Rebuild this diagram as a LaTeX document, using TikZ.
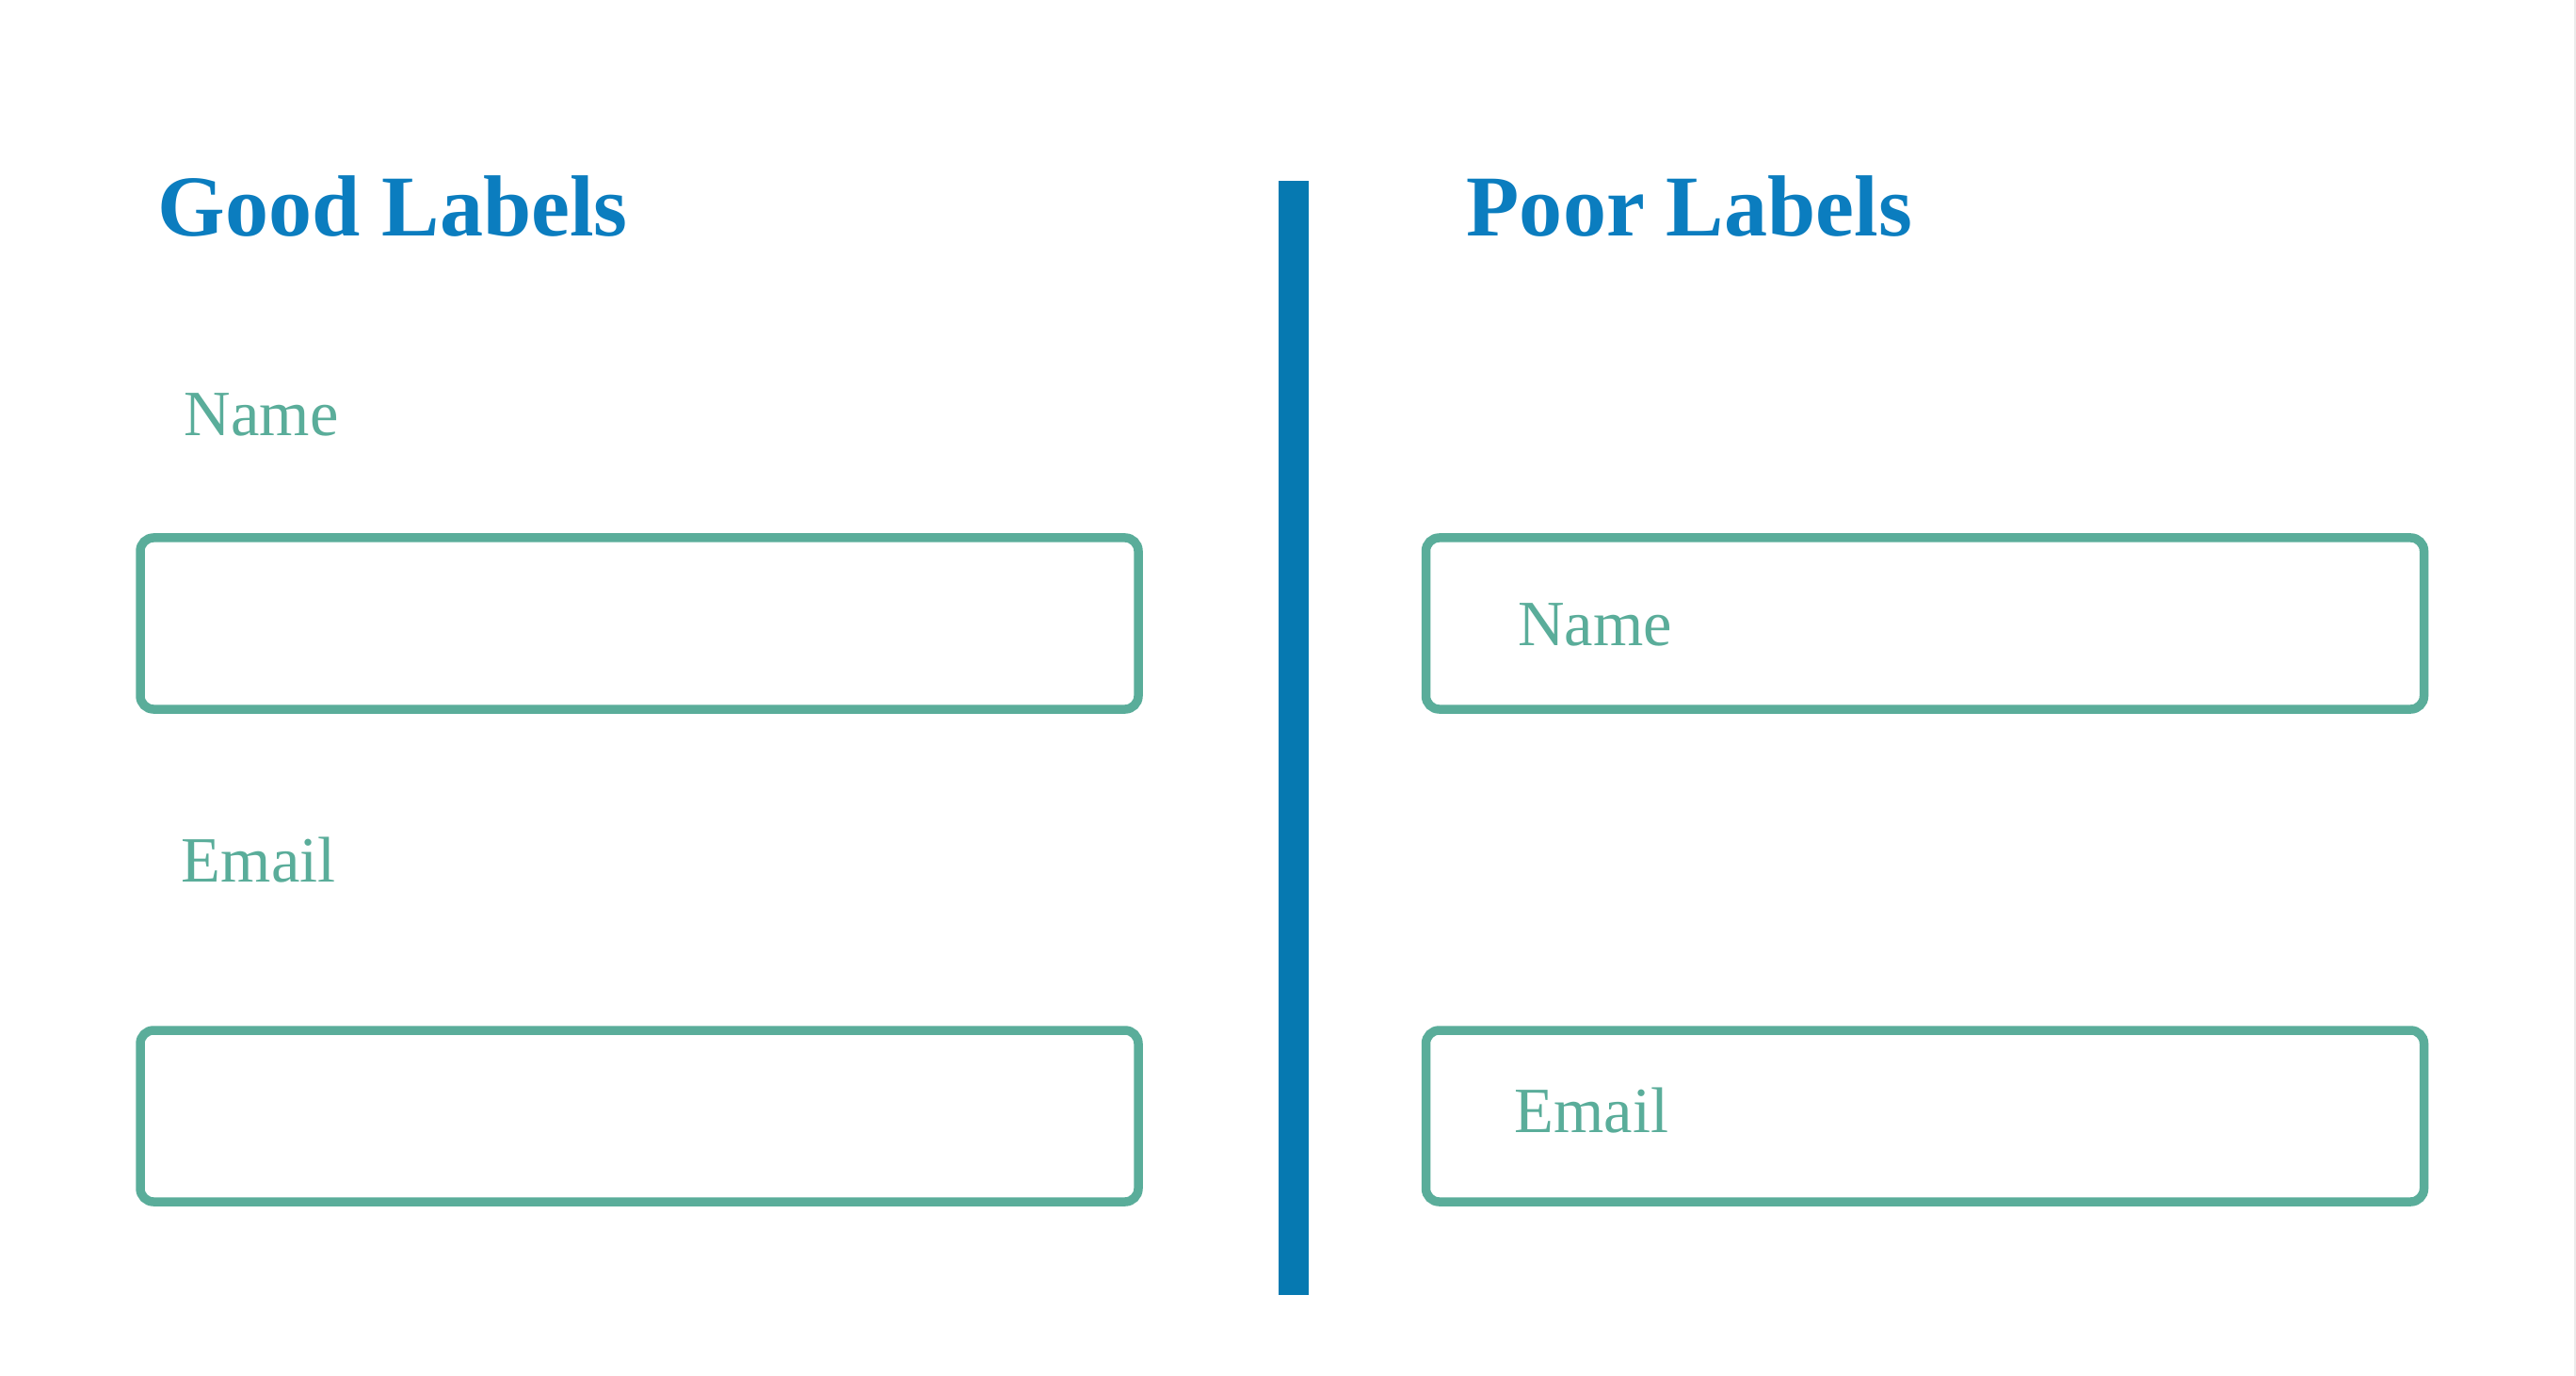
\documentclass[tikz,border=0pt]{standalone}
\usepackage{fontspec}
\setmainfont{Liberation Serif}
\usepackage{tikz}
\usetikzlibrary{positioning}

\definecolor{headblue}{HTML}{0B7DBF}
\definecolor{barblue}{HTML}{0679B1}
\definecolor{fieldteal}{HTML}{5AAD9A}

\tikzset{
	heading/.style={anchor=base west,inner sep=0pt,text=headblue,font=\fontsize{26.2}{30}\selectfont\bfseries},
	hint/.style={anchor=base west,inner sep=0pt,text=fieldteal,font=\fontsize{19.5}{23}\selectfont},
	field/.style={draw=fieldteal,line width=0.095cm,rounded corners=0.14cm,minimum width=10.6cm,minimum height=1.82cm,inner sep=0pt},
}

\begin{document}
\begin{tikzpicture}
			\fill[white] (0,0) rectangle (27.36,-14.61);
			\useasboundingbox (0,0) rectangle (27.36,-14.61);
			\draw[black!8,line width=0.02cm] (27.35,0) -- (27.35,-14.61);
			% left half
			\node[heading] (good) at (1.67,-2.51) {Good Labels};
			\node[field] (namebox) at (6.79,-6.62) {};
			\node[field] (mailbox) at (6.79,-11.85) {};
			\node[hint] (namelbl) at ([shift={(0.51,1.04)}]namebox.north west) {Name};
			\node[hint] (maillbl) at ([shift={(0.48,1.53)}]mailbox.north west) {Email};
			% divider
			\fill[barblue] (13.58,-1.92) rectangle (13.90,-13.75);
			% right half
			\node[heading] (poor) at (15.57,-2.51) {Poor Labels};
			\node[field] (namein) at (20.445,-6.62) {};
			\node[field] (mailin) at (20.445,-11.85) {};
			\node[hint] (nametxt) at ([shift={(1.02,-1.19)}]namein.north west) {Name};
			\node[hint] (mailtxt) at ([shift={(0.98,-1.13)}]mailin.north west) {Email};
		\end{tikzpicture}
\end{document}
